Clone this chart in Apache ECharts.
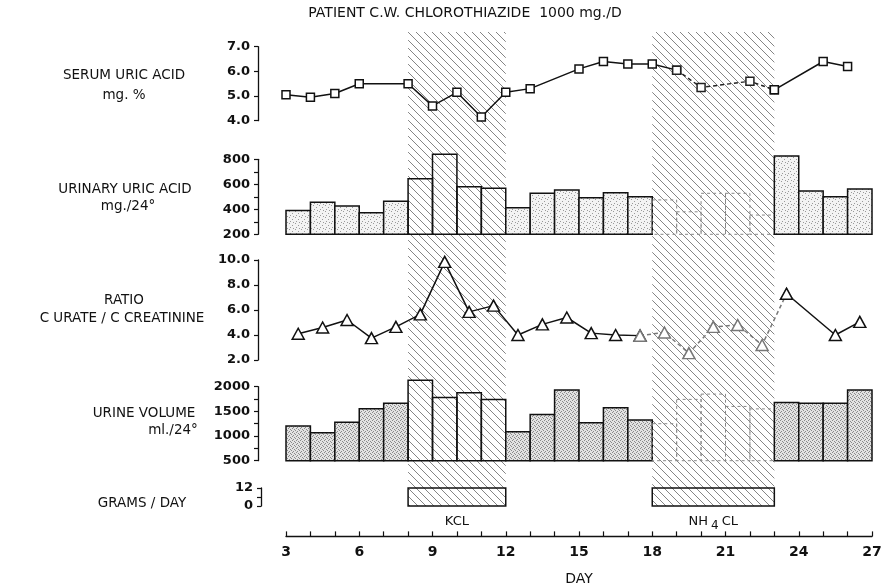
<!DOCTYPE html>
<html>
<head>
<meta charset="utf-8">
<script src="https://cdn.jsdelivr.net/npm/echarts@6/dist/echarts.min.js"></script>
<style>
html,body{margin:0;padding:0;background:#fff;}
#chart{width:886px;height:587px;}
</style>
</head>
<body>
<div id="chart"></div>
<script>
// ---------- DATA ----------
const title = 'PATIENT C.W. CHLOROTHIAZIDE  1000 mg./D';
const serumDays = [3,4,5,6,8,9,10,11,12,13,15,16,17,18,19,20,22,23,25,26];
const serumUric = [5.05,4.95,5.1,5.5,5.5,4.6,5.15,4.15,5.15,5.3,6.1,6.4,6.3,6.3,6.05,5.35,5.6,5.25,6.4,6.2];
const barDays = [3,4,5,6,7,8,9,10,11,12,13,14,15,16,17,18,19,20,21,22,23,24,25,26];
const urinaryUric = [390,456,426,373,464,645,840,581,568,413,528,554,493,533,501,475,380,528,528,354,826,546,501,562];
const ratioDays = [3.5,4.5,5.5,6.5,7.5,8.5,9.5,10.5,11.5,12.5,13.5,14.5,15.5,16.5,17.5,18.5,19.5,20.5,21.5,22.5,23.5,25.5,26.5];
const ratioVals = [4.1,4.6,5.2,3.75,4.65,5.65,9.85,5.85,6.35,4.0,4.85,5.4,4.15,4.0,3.95,4.2,2.55,4.65,4.8,3.2,7.3,4.0,5.05];
const urineVolume = [1202,1067,1277,1552,1662,2133,1783,1876,1743,1087,1439,1931,1269,1573,1324,1250,1743,1850,1600,1550,1682,1662,1662,1931];
const treatmentNames = ['KCL', 'NH4CL'];
const treatmentStart = [8, 18];
const treatmentEnd = [12, 23];
const treatmentDose = [12, 12];
const xTicks = [3,6,9,12,15,18,21,24,27];

// ---------- PATTERNS ----------
function hatchCanvas(){
  const c = document.createElement('canvas'); c.width = 8; c.height = 8;
  const g = c.getContext('2d');
  g.fillStyle = '#fff'; g.fillRect(0,0,8,8);
  g.strokeStyle = '#666'; g.lineWidth = 0.8;
  g.beginPath();
  g.moveTo(-1,-1); g.lineTo(9,9);
  g.moveTo(-1,7); g.lineTo(1,9);
  g.moveTo(7,-1); g.lineTo(9,1);
  g.stroke();
  return c;
}
function stippleCanvas(bg, dot, pts, size){
  const c = document.createElement('canvas'); c.width = size; c.height = size;
  const g = c.getContext('2d');
  g.fillStyle = bg; g.fillRect(0,0,size,size);
  g.fillStyle = dot;
  pts.forEach(p => g.fillRect(p[0], p[1], 1, 1));
  return c;
}
const hatch = {type:'pattern', image: hatchCanvas(), repeat:'repeat'};
const stippleLight = {type:'pattern', image: stippleCanvas('#f3f3f3', '#9a9a9a', [[1,1],[4,3],[2,5],[5,0]], 6), repeat:'repeat'};
const stippleDark = {type:'pattern', image: stippleCanvas('#e2e2e2', '#8a8a8a', [[0,0],[2,1],[1,3],[3,2]], 4), repeat:'repeat'};

function inTreatment(d){
  for (let i = 0; i < treatmentStart.length; i++) if (d >= treatmentStart[i] && d < treatmentEnd[i]) return i;
  return -1;
}

// ---------- LAYOUT ----------
const L = 286, R = 14;
const FONT = 'DejaVu Sans';
const grids = [
  {left:L, right:R, top:32, height:474},     // 0 hatch background
  {left:L, right:R, top:46.7, height:74},    // 1 serum
  {left:L, right:R, top:159.3, height:75},   // 2 urinary
  {left:L, right:R, top:260, height:100},    // 3 ratio
  {left:L, right:R, top:386.7, height:74},   // 4 volume
  {left:L, right:R, top:488, height:18},     // 5 grams
  {left:L, right:R, top:536, height:1.5}     // 6 day axis
];
const xAxes = grids.map((g, i) => ({
  type:'value', gridIndex:i, min:3, max:27, interval:1,
  show: i === 6,
  position:'bottom',
  axisLine:{show:true, lineStyle:{color:'#111', width:1.3}},
  axisTick:{show:true, inside:true, length:5, lineStyle:{color:'#111', width:1.2}},
  axisLabel:{margin:9, fontFamily:FONT, fontSize:14, fontWeight:'bold', color:'#111',
    formatter: v => xTicks.indexOf(v) >= 0 ? String(v) : ''},
  splitLine:{show:false},
  name: i === 6 ? 'DAY' : '', nameLocation:'middle', nameGap:36,
  nameTextStyle:{fontFamily:FONT, fontSize:14, color:'#111'}
}));
function yAx(i, min, max, interval, fmt, offset){
  return {
    type:'value', gridIndex:i, min, max, interval, offset: offset,
    axisLine:{show:true, lineStyle:{color:'#111', width:1.3}},
    axisTick:{show:true, inside:false, length:4, lineStyle:{color:'#111', width:1.2}},
    axisLabel:{margin:8, fontFamily:FONT, fontSize:13, fontWeight:'bold', color:'#111', formatter:fmt},
    splitLine:{show:false}
  };
}
const yAxes = [
  {type:'value', gridIndex:0, min:0, max:1, show:false},
  yAx(1, 4, 7, 1, v => v.toFixed(1), 28),
  yAx(2, 200, 800, 100, v => v % 200 === 0 ? String(v) : '', 28),
  yAx(3, 2, 10, 2, v => v.toFixed(1), 28),
  yAx(4, 500, 2000, 250, v => v % 500 === 0 ? String(v) : '', 28),
  yAx(5, 0, 12, 6, v => v === 6 ? '' : String(v), 25),
  {type:'value', gridIndex:6, min:0, max:1, show:false}
];

// ---------- SERIES ----------
const treatData = treatmentStart.map((s, i) => [s, treatmentEnd[i], treatmentDose[i], i]);
function barSeries(gi, values, fillPat, base){
  return {
    type:'custom', xAxisIndex:gi, yAxisIndex:gi, z:3, clip:false,
    data: barDays.map((d, i) => [d, values[i]]),
    renderItem: (params, api) => {
      const d = api.value(0), v = api.value(1);
      const p0 = api.coord([d, v]), p1 = api.coord([d + 1, base]);
      const t = inTreatment(d);
      return {type:'rect',
        shape:{x:p0[0], y:p0[1], width:p1[0]-p0[0], height:p1[1]-p0[1]},
        style:{
          fill: t === -1 ? fillPat : 'transparent',
          stroke: t === 1 ? '#888' : '#111',
          lineWidth: t === 1 ? 1 : 1.5,
          lineDash: t === 1 ? [3,3] : null
        }};
    }
  };
}
function splitLine(xs, ys, a, b){
  const pre = [], mid = [], post = [];
  xs.forEach((x, i) => {
    if (x <= a) pre.push([x, ys[i]]);
    if (x >= a && x <= b) mid.push([x, ys[i]]);
    if (x >= b) post.push([x, ys[i]]);
  });
  return [pre, mid, post];
}
function lineSeries(gi, data, symbol, size, dashed, color){
  return {
    type:'line', xAxisIndex:gi, yAxisIndex:gi, z:5, data,
    symbol, symbolSize:size, showSymbol:true, clip:false,
    lineStyle:{color: color, width:1.5, type: dashed ? [4,3] : 'solid'},
    itemStyle:{color:'#fff', borderColor: color, borderWidth:1.5},
    emphasis:{disabled:true}, animation:false
  };
}
const serumParts = splitLine(serumDays, serumUric, 19, 23);
const ratioParts = splitLine(ratioDays, ratioVals, 17.5, 23.5);

const series = [
  {
    type:'custom', xAxisIndex:0, yAxisIndex:0, z:1, data: treatData,
    renderItem: (params, api) => {
      const p0 = api.coord([api.value(0), 1]), p1 = api.coord([api.value(1), 0]);
      return {type:'rect', shape:{x:p0[0], y:p0[1], width:p1[0]-p0[0], height:p1[1]-p0[1]},
        style:{fill: hatch, stroke:null}};
    }
  },
  lineSeries(1, serumParts[0], 'rect', 8, false, '#111'),
  lineSeries(1, serumParts[1], 'rect', 8, true, '#222'),
  lineSeries(1, serumParts[2], 'rect', 8, false, '#111'),
  barSeries(2, urinaryUric, stippleLight, 200),
  lineSeries(3, ratioParts[0], 'triangle', [12,11], false, '#111'),
  lineSeries(3, ratioParts[1], 'triangle', [12,11], true, '#777'),
  lineSeries(3, ratioParts[2], 'triangle', [12,11], false, '#111'),
  barSeries(4, urineVolume, stippleDark, 500),
  {
    type:'custom', xAxisIndex:5, yAxisIndex:5, z:3, clip:false, data: treatData,
    renderItem: (params, api) => {
      const s = api.value(0), e = api.value(1), dose = api.value(2), idx = api.value(3);
      const p0 = api.coord([s, dose]), p1 = api.coord([e, 0]);
      const name = treatmentNames[idx];
      const txt = name === 'NH4CL' ? '{a|NH}{s|4}{a|CL}' : '{a|' + name + '}';
      return {type:'group', children:[
        {type:'rect', shape:{x:p0[0], y:p0[1], width:p1[0]-p0[0], height:p1[1]-p0[1]},
          style:{fill:'transparent', stroke:'#111', lineWidth:1.5}},
        {type:'text', x:(p0[0]+p1[0])/2, y:p1[1] + 16,
          style:{text: txt, align:'center', verticalAlign:'middle',
            rich:{a:{fontFamily:FONT, fontSize:13, fill:'#111'},
                  s:{fontFamily:FONT, fontSize:12, fill:'#111', padding:[8,3,0,3]}}}}
      ]};
    }
  }
];

// ---------- TEXT ----------
function txt(x, y, s, size){
  return {type:'text', x, y, style:{text:s, fontFamily:FONT, fontSize:size || 13.5, fill:'#111', align:'center', verticalAlign:'middle'}};
}
const graphics = [
  txt(465, 13, title, 14),
  txt(124, 75, 'SERUM URIC ACID'),
  txt(124, 95, 'mg. %'),
  txt(125, 189, 'URINARY URIC ACID'),
  txt(128, 206, 'mg./24°'),
  txt(124, 300, 'RATIO'),
  txt(122, 318, 'C URATE / C CREATININE'),
  txt(144, 413, 'URINE VOLUME'),
  txt(173, 430, 'ml./24°'),
  txt(142, 503, 'GRAMS / DAY')
];

const chart = echarts.init(document.getElementById('chart'), null, {renderer:'canvas'});
chart.setOption({
  animation:false,
  backgroundColor:'#fff',
  grid: grids,
  xAxis: xAxes,
  yAxis: yAxes,
  series,
  graphic: graphics
});
</script>
</body>
</html>
